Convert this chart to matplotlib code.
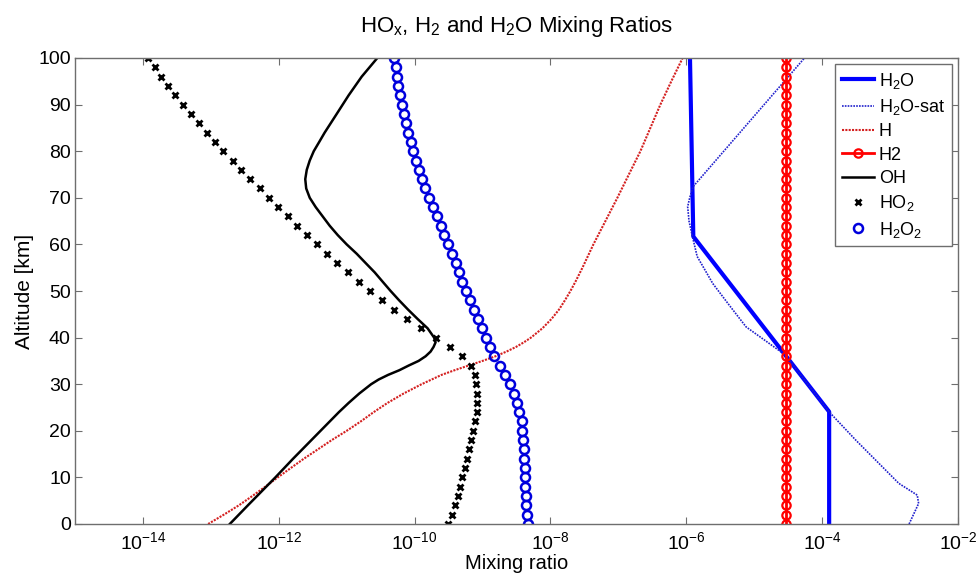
import numpy as np
import matplotlib
matplotlib.use("Agg")
import matplotlib.pyplot as plt
from matplotlib.ticker import FixedLocator, LogFormatterSciNotation, NullLocator

plt.rcParams['font.family'] = ['Liberation Sans', 'DejaVu Sans']
plt.rcParams['mathtext.fontset'] = 'custom'
plt.rcParams['mathtext.rm'] = 'Liberation Sans'
plt.rcParams['mathtext.it'] = 'Liberation Sans:italic'
plt.rcParams['mathtext.default'] = 'regular'

# ---------------- data (log10 of mixing ratio) ----------------
alt_grid = list(range(0, 101, 2))

ho2_log = [-9.510, -9.451, -9.402, -9.368, -9.333, -9.299, -9.265, -9.235, -9.206, -9.172,
           -9.137, -9.107, -9.088, -9.083, -9.088, -9.103, -9.118, -9.176, -9.299, -9.485,
           -9.691, -9.902, -10.108, -10.299, -10.485, -10.657, -10.819, -10.980, -11.137, -11.289,
           -11.436, -11.583, -11.725, -11.863, -12.005, -12.142, -12.279, -12.417, -12.549, -12.681,
           -12.814, -12.936, -13.059, -13.181, -13.299, -13.412, -13.525, -13.627, -13.730, -13.828,
           -13.931]

h2o2_log = [-8.333, -8.343, -8.353, -8.363, -8.373, -8.377, -8.382, -8.387, -8.392, -8.397,
            -8.412, -8.426, -8.456, -8.495, -8.544, -8.603, -8.672, -8.745, -8.824, -8.892,
            -8.951, -9.010, -9.068, -9.127, -9.186, -9.240, -9.299, -9.353, -9.397, -9.451,
            -9.505, -9.564, -9.618, -9.676, -9.730, -9.789, -9.843, -9.892, -9.936, -9.980,
            -10.020, -10.059, -10.093, -10.127, -10.157, -10.186, -10.216, -10.240, -10.260, -10.279,
            -10.304]

h2_value = 2.92e-5

oh_alt = [0, 2, 4, 6, 8, 10, 12, 14, 16, 18, 20, 22, 24, 26, 28, 30, 31, 32, 33, 34, 35, 36,
          37, 38, 39, 40, 42, 44, 46, 48, 50, 52, 54, 56, 58, 60, 62, 64, 66, 68, 70, 72, 74,
          76, 78, 80, 82, 84, 88, 92, 96, 100]
oh_log = [-12.721, -12.588, -12.455, -12.320, -12.185, -12.050, -11.920, -11.790, -11.655,
          -11.520, -11.385, -11.250, -11.115, -10.970, -10.815, -10.640, -10.530, -10.390,
          -10.225, -10.088, -9.941, -9.838, -9.765, -9.721, -9.691, -9.713, -9.809, -9.956,
          -10.096, -10.228, -10.353, -10.471, -10.588, -10.721, -10.853, -11.000, -11.132,
          -11.250, -11.353, -11.456, -11.544, -11.596, -11.610, -11.588, -11.544, -11.485,
          -11.404, -11.324, -11.147, -10.971, -10.779, -10.549]

h_alt = [0, 2, 4, 6, 8, 10, 12, 14, 16, 18, 20, 22, 24, 26, 28, 30, 32, 33, 34, 35, 36, 37,
         38, 39, 40, 42, 44, 46, 48, 50, 52, 55, 60, 65, 70, 75, 80, 85, 90, 95, 100]
h_log = [-13.040, -12.809, -12.588, -12.390, -12.199, -12.015, -11.824, -11.632, -11.426,
         -11.221, -11.000, -10.794, -10.603, -10.397, -10.162, -9.897, -9.603, -9.412, -9.206,
         -9.000, -8.809, -8.647, -8.507, -8.390, -8.287, -8.118, -7.985, -7.875, -7.787,
         -7.706, -7.632, -7.529, -7.368, -7.191, -7.015, -6.846, -6.676, -6.529, -6.382,
         -6.221, -6.054]

h2o_alt = [0, 24.1, 61.7, 100]
h2o_log = [-3.897, -3.897, -5.897, -5.946]

sat_alt = [0, 4.4, 6.2, 8.7, 18.0, 24.1, 36.3, 42.3, 47.0, 51.6, 57.4, 61.7, 65.0, 68.1,
           70.0, 72.4, 100]
sat_log = [-2.72, -2.58, -2.60, -2.87, -3.505, -3.90, -4.545, -5.12, -5.37, -5.61, -5.84,
           -5.91, -5.96, -5.98, -5.95, -5.90, -4.26]

x_tick_values = [1e-14, 1e-12, 1e-10, 1e-8, 1e-6, 1e-4, 1e-2]
y_tick_values = list(range(0, 101, 10))

labels = [r'H$_2$O', r'H$_2$O-sat', 'H', 'H2', 'OH', r'HO$_2$', r'H$_2$O$_2$']

# ---------------- plot ----------------
fig = plt.figure(figsize=(9.76, 5.74), dpi=100)
ax = fig.add_axes([75 / 976, 50 / 574, 883 / 976, 466 / 574])

p = lambda v: 10.0 ** np.asarray(v)

ax.plot(p(h2o_log), h2o_alt, color='#0000ff', lw=3.0, label=labels[0])
ax.plot(p(sat_log), sat_alt, color='#1f1fcc', lw=1.2, ls=(0, (1, 0.7)), label=labels[1])
ax.plot(p(h_log), h_alt, color='#d42020', lw=1.5, ls=(0, (1, 0.6)), label=labels[2])
ax.plot(np.full(len(alt_grid), h2_value), alt_grid, color='#ff0000', lw=2.0, marker='o',
        ms=6, mfc='none', mew=1.6, label=labels[3])
ax.plot(p(oh_log), oh_alt, color='black', lw=1.8, label=labels[4])
ax.plot(p(ho2_log), alt_grid, ls='none', color='black', marker='x', ms=4.5, mew=2.0,
        label=labels[5])
ax.plot(p(h2o2_log), alt_grid, ls='none', color='#0000dd', marker='o', ms=6.5, mfc='none',
        mew=1.8, label=labels[6])

ax.set_xscale('log')
ax.set_xlim(1e-15, 1e-2)
ax.set_ylim(0, 100)
ax.xaxis.set_major_locator(FixedLocator(x_tick_values))
ax.xaxis.set_major_formatter(LogFormatterSciNotation())
ax.xaxis.set_minor_locator(NullLocator())
ax.yaxis.set_major_locator(FixedLocator(y_tick_values))

for s in ax.spines.values():
    s.set_color('#6e6e6e')
    s.set_linewidth(1.0)
ax.tick_params(axis='both', which='major', direction='in', length=5, width=0.8,
               colors='#6e6e6e', labelcolor='black', labelsize=14, top=True, right=True)
ax.tick_params(axis='x', pad=5)
ax.tick_params(axis='y', pad=3)

ax.set_title(r'HO$_x$, H$_2$ and H$_2$O Mixing Ratios', fontsize=16, pad=19)
ax.set_xlabel('Mixing ratio', fontsize=14.5, labelpad=1)
ax.set_ylabel('Altitude [km]', fontsize=15, labelpad=3)

leg = ax.legend(loc='upper right', fontsize=13, frameon=True, fancybox=False,
                edgecolor='#6e6e6e', framealpha=1, borderaxespad=0.35, handlelength=1.8,
                handletextpad=0.25, labelspacing=0.35, borderpad=0.35, numpoints=1)
leg.get_frame().set_linewidth(1.0)

fig.savefig('out.png', dpi=100)
